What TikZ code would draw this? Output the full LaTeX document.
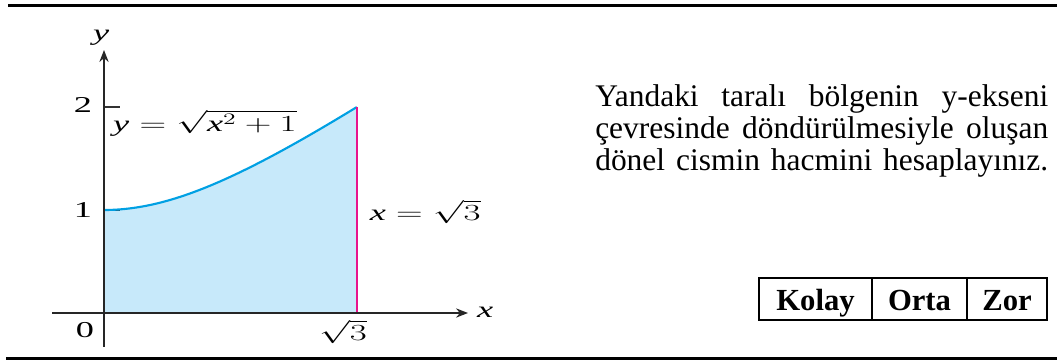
\documentclass[tikz,border=0pt]{standalone}
\usepackage{fontspec}
\setmainfont{Liberation Serif}
\usetikzlibrary{positioning,arrows.meta,calc}
\definecolor{areablue}{RGB}{199, 233, 250}
\definecolor{curveblue}{RGB}{0, 160, 227}
\definecolor{edgepink}{RGB}{232, 20, 140}
\newcommand{\vx}{\textit{x}}
\newcommand{\vy}{\textit{y}}

\begin{document}
\begin{tikzpicture}[x=0.75pt, y=-0.75pt,
    axislbl/.style={font=\fontsize{17}{20}\selectfont, inner sep=0pt, xscale=1.6, transform shape},
    textline/.style={font=\fontsize{23.6}{26}\selectfont, anchor=base west, inner sep=0pt},
    cellbox/.style={draw, line width=1.5pt, inner sep=0pt, outer sep=0pt, minimum height=31.5pt,
      text height=20pt, text depth=3.5pt, font=\fontsize{23}{26}\selectfont\bfseries}]
  \useasboundingbox (0,0) rectangle (1057,361);
  % Rules
  \draw[line width=2pt] (8,5.5) -- (1057,5.5);
  \draw[line width=2.2pt] (6,358.5) -- (1057,358.5);
  % Graph
  \begin{scope}[shift={(104,313)}, x=109.5pt, y=77.25pt]
    \fill[areablue] (0,0) -- plot[domain=0:1.7320508, samples=60] (\x, {sqrt(\x*\x+1)}) -- (1.7320508,0) -- cycle;
    \draw[line width=0.9pt, black!80] (0,1) -- (0.11,1);
    \draw[line width=0.9pt, black!80] (0,2) -- (0.11,2);
    \draw[line width=1.6pt, curveblue] plot[domain=0:1.7320508, samples=60] (\x, {sqrt(\x*\x+1)});
    \draw[line width=1.1pt, edgepink] (1.7320508,0) -- (1.7320508,2);
    \draw[line width=0.9pt, black!85, -{Stealth[length=9pt, width=7pt, inset=3pt]}] (-0.356,0) -- (2.493,0);
    \draw[line width=0.9pt, black!85, -{Stealth[length=9pt, width=7pt, inset=3pt]}] (0,-0.33) -- (0,2.553);
    \node[axislbl] (ylbl) at (-0.02,2.67) {\vy};
    \node[axislbl] (xlbl) at (2.61,0.01) {\vx};
    \node[axislbl] (two) at (-0.144,2.02) {2};
    \node[axislbl] (one) at (-0.144,1.0) {1};
    \node[axislbl] (zero) at (-0.13,-0.165) {0};
    \node[axislbl] (rootthree) at (1.637,-0.184) {$\sqrt{3}$};
    \node[axislbl, anchor=base west] (curvelbl) at (0.06,1.767) {$\vy = \sqrt{\vx^2 + 1}$};
    \node[axislbl] (linelbl) at (2.2,0.98) {$\vx = \sqrt{3}$};
  \end{scope}
  % Question text
  \node[textline] (lineA) at (595,106) {\makebox[339.75pt][s]{Yandaki taralı bölgenin y-ekseni}};
  \node[textline] (lineB) at (595,138) {\makebox[339.75pt][s]{çevresinde döndürülmesiyle oluşan}};
  \node[textline] (lineC) at (595,170) {\makebox[339.75pt][s]{dönel cismin hacmini hesaplayınız.}};
  % Difficulty boxes
  \node[cellbox, minimum width=84.75pt] (kolay) at (815.5,299) {Kolay};
  \node[cellbox, minimum width=71.25pt] (orta) at (919.5,299) {Orta};
  \node[cellbox, minimum width=60pt] (zor) at (1007,299) {Zor};
\end{tikzpicture}
\end{document}
